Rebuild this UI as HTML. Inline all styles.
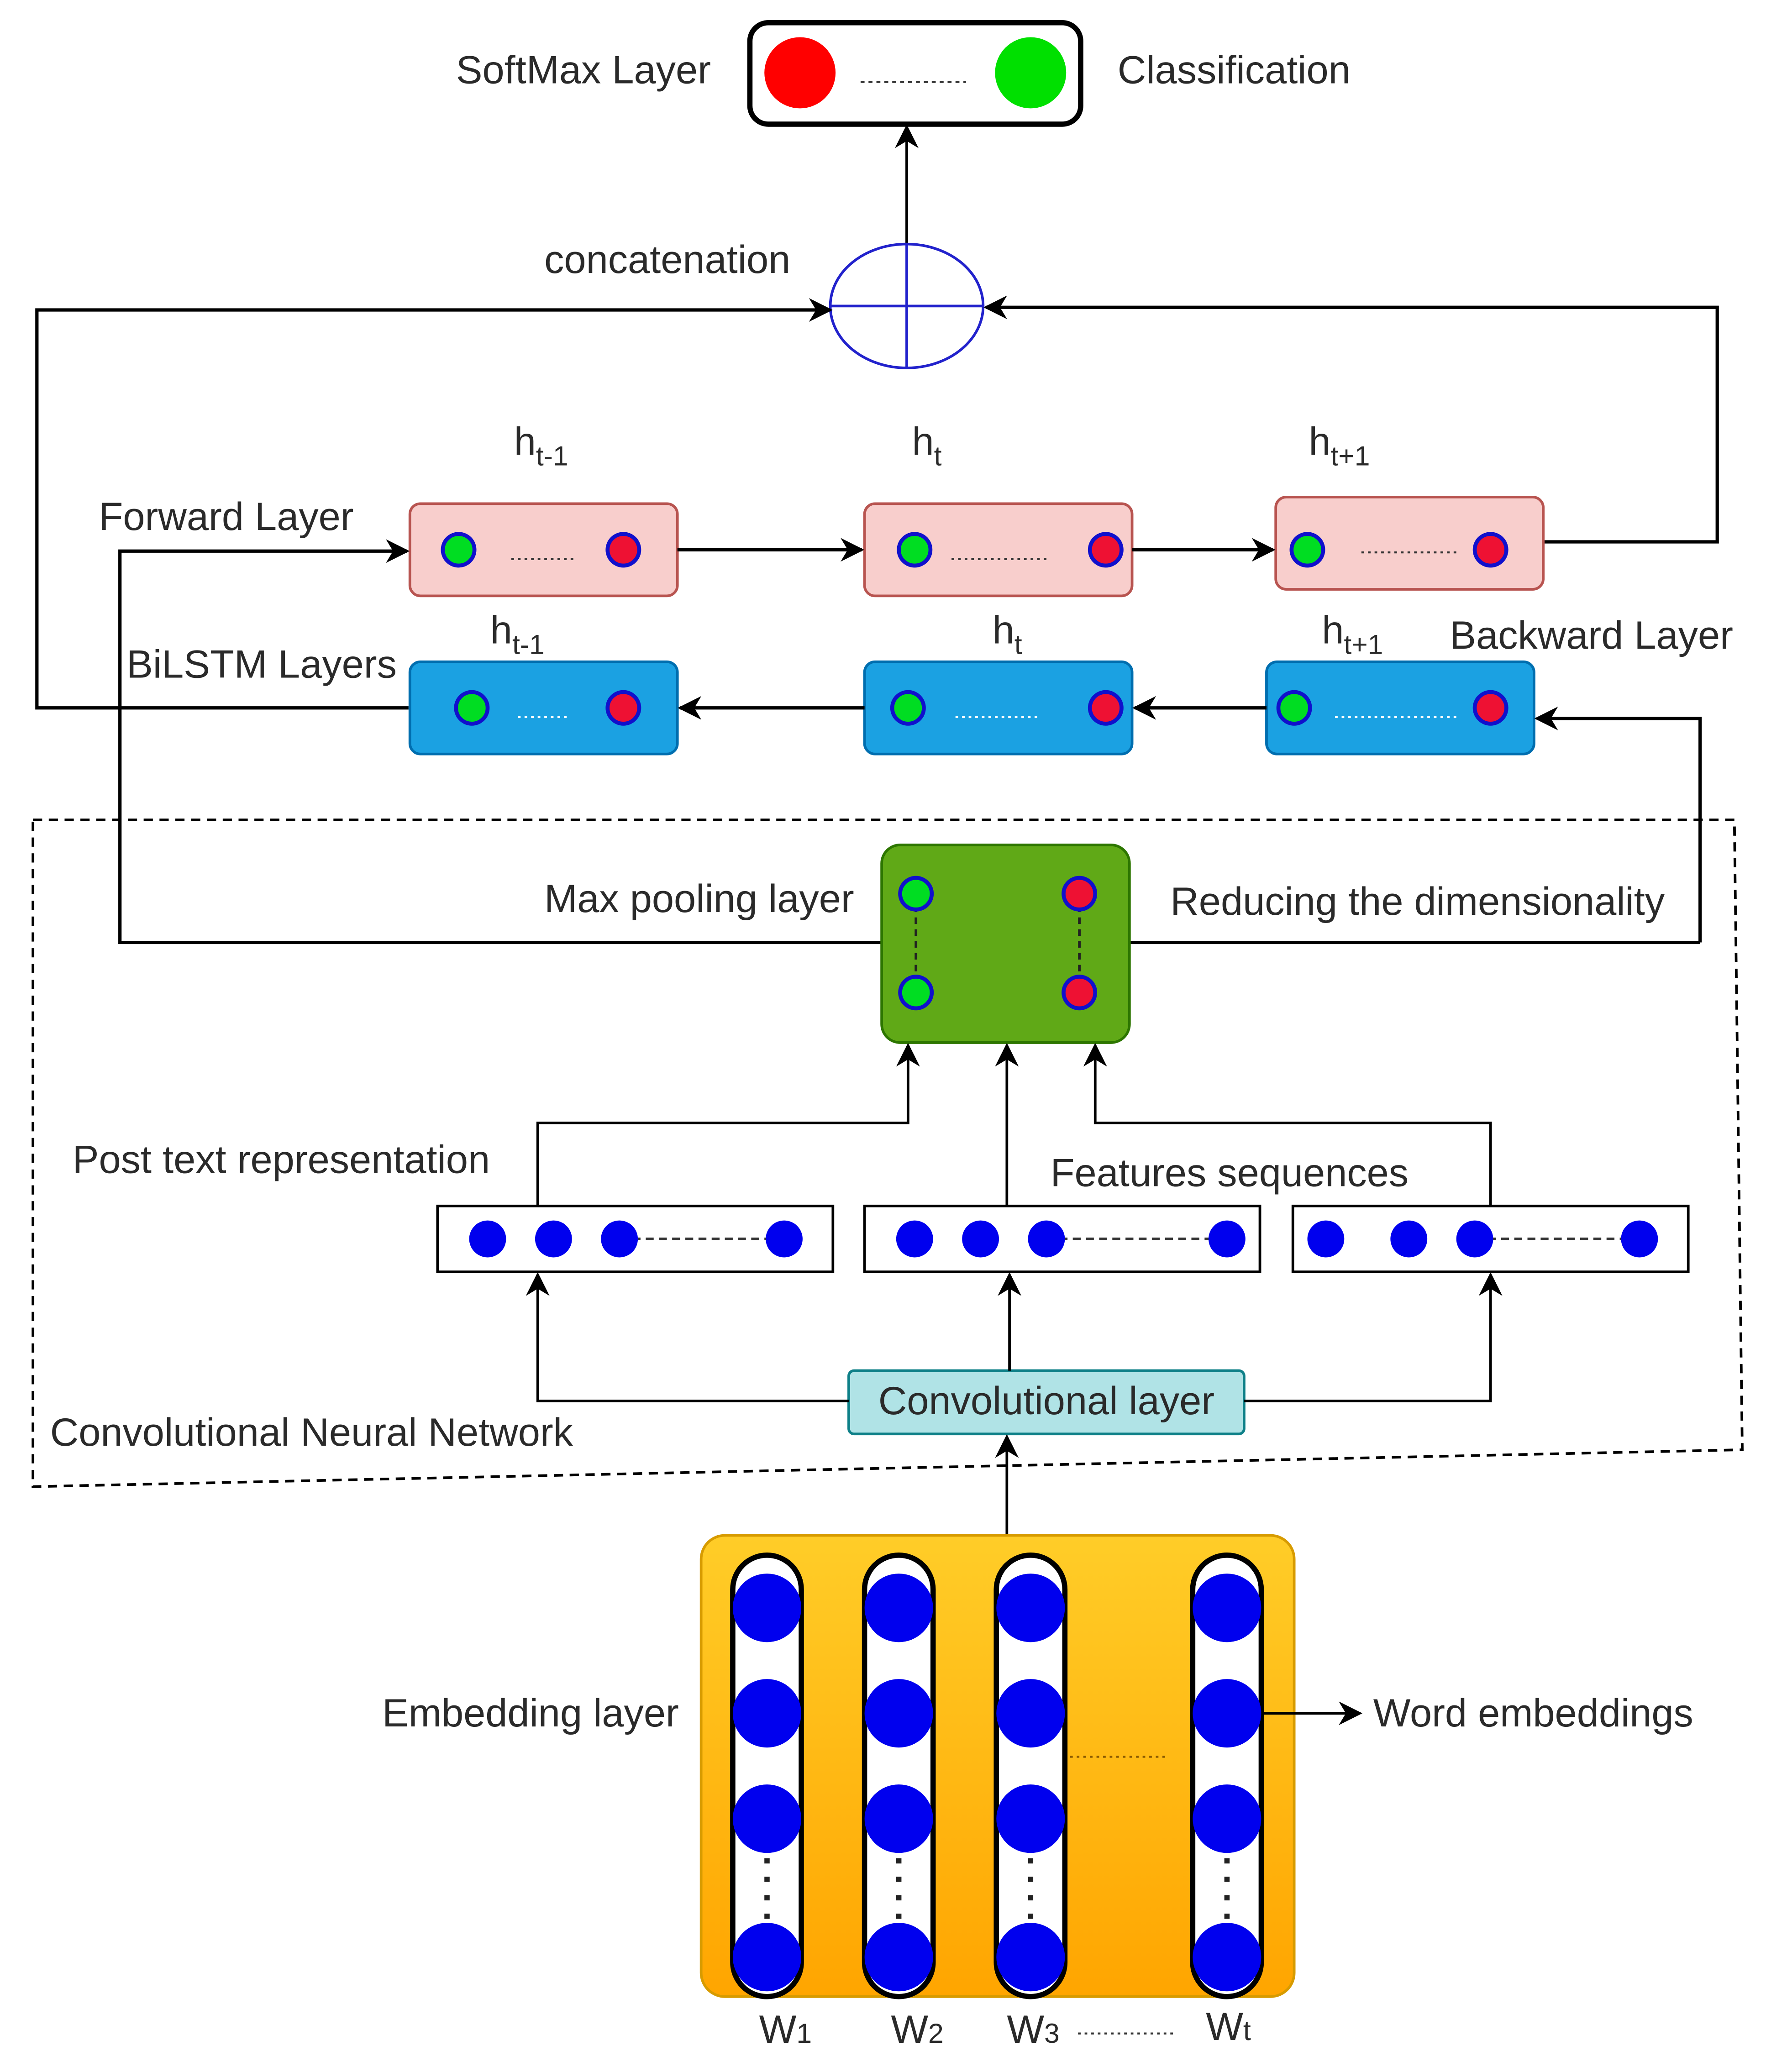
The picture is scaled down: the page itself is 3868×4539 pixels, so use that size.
<!DOCTYPE html>
<html><head><meta charset="utf-8"><style>
html,body{margin:0;padding:0;background:#fff}
svg{display:block}
text{font-family:"Liberation Sans",Arial,sans-serif;fill:#2a2a2a}
</style></head><body>
<svg width="3868" height="4539" viewBox="0 0 1340 1572" xmlns="http://www.w3.org/2000/svg">
<defs>
<marker id="b" viewBox="0 0 10 10" refX="9" refY="5" markerWidth="18" markerHeight="18" orient="auto" markerUnits="userSpaceOnUse">
<path d="M0,0 L10,5 L0,10 L3,5 z" fill="#000"/></marker>
<linearGradient id="og" x1="0" y1="0" x2="0" y2="1"><stop offset="0" stop-color="#ffcd28"/><stop offset="1" stop-color="#ffa500"/></linearGradient>
</defs>
<g font-size="30">
<rect x="569" y="17" width="251" height="77" rx="14" fill="#fff" stroke="#000" stroke-width="4"/>
<circle cx="607" cy="55" r="27" fill="#ff0000"/>
<circle cx="782" cy="55" r="27" fill="#00e000"/>
<line x1="653" y1="62" x2="733" y2="62" stroke="#333" stroke-width="1.5" stroke-dasharray="3,3"/>
<text x="346" y="63">SoftMax Layer</text>
<text x="848" y="63">Classification</text>
<line x1="688" y1="185" x2="688" y2="96" stroke="#000" stroke-width="2" marker-end="url(#b)"/>
<ellipse cx="688" cy="232" rx="58" ry="47" fill="#fff" stroke="#2222cc" stroke-width="2"/>
<line x1="630" y1="232" x2="746" y2="232" stroke="#2222cc" stroke-width="2"/>
<line x1="688" y1="185" x2="688" y2="279" stroke="#2222cc" stroke-width="2"/>
<text x="413" y="207">concatenation</text>
<polyline points="310,537 28,537 28,235 630,235" fill="none" stroke="#000" stroke-width="2.5" marker-end="url(#b)"/>
<polyline points="1170,411 1303,411 1303,233 748,233" fill="none" stroke="#000" stroke-width="2.5" marker-end="url(#b)"/>
<g fill="#f8cecc" stroke="#b85450" stroke-width="2">
<rect x="311" y="382" width="203" height="70" rx="8"/>
<rect x="656" y="382" width="203" height="70" rx="8"/>
<rect x="968" y="377" width="203" height="70" rx="8"/>
</g>
<g fill="#1ba1e2" stroke="#006eaf" stroke-width="2">
<rect x="311" y="502" width="203" height="70" rx="8"/>
<rect x="656" y="502" width="203" height="70" rx="8"/>
<rect x="961" y="502" width="203" height="70" rx="8"/>
</g>
<g stroke="#1010cc" stroke-width="3">
<circle cx="348" cy="417" r="12" fill="#00dd22"/><circle cx="473" cy="417" r="12" fill="#ee1133"/>
<circle cx="694" cy="417" r="12" fill="#00dd22"/><circle cx="839" cy="417" r="12" fill="#ee1133"/>
<circle cx="992" cy="417" r="12" fill="#00dd22"/><circle cx="1131" cy="417" r="12" fill="#ee1133"/>
<circle cx="358" cy="537" r="12" fill="#00dd22"/><circle cx="473" cy="537" r="12" fill="#ee1133"/>
<circle cx="689" cy="537" r="12" fill="#00dd22"/><circle cx="839" cy="537" r="12" fill="#ee1133"/>
<circle cx="982" cy="537" r="12" fill="#00dd22"/><circle cx="1131" cy="537" r="12" fill="#ee1133"/>
</g>
<g stroke-width="1.5" stroke-dasharray="2,3">
<line x1="388" y1="424" x2="438" y2="424" stroke="#333"/>
<line x1="722" y1="424" x2="795" y2="424" stroke="#333"/>
<line x1="1033" y1="419" x2="1105" y2="419" stroke="#333"/>
<line x1="393" y1="544" x2="433" y2="544" stroke="#fff"/>
<line x1="725" y1="544" x2="790" y2="544" stroke="#fff"/>
<line x1="1013" y1="544" x2="1108" y2="544" stroke="#fff"/>
</g>
<line x1="514" y1="417" x2="654" y2="417" stroke="#000" stroke-width="2.5" marker-end="url(#b)"/>
<line x1="859" y1="417" x2="966" y2="417" stroke="#000" stroke-width="2.5" marker-end="url(#b)"/>
<line x1="656" y1="537" x2="516" y2="537" stroke="#000" stroke-width="2.5" marker-end="url(#b)"/>
<line x1="961" y1="537" x2="861" y2="537" stroke="#000" stroke-width="2.5" marker-end="url(#b)"/>
<polyline points="1290,715 1290,545 1166,545" fill="none" stroke="#000" stroke-width="2.5" marker-end="url(#b)"/>
<polyline points="669,715 91,715 91,418 309,418" fill="none" stroke="#000" stroke-width="2.5" marker-end="url(#b)"/>
<line x1="857" y1="715" x2="1290" y2="715" stroke="#000" stroke-width="2.5"/>
<text x="390" y="345">h<tspan font-size="21" dy="8">t-1</tspan></text>
<text x="692" y="345">h<tspan font-size="21" dy="8">t</tspan></text>
<text x="993" y="345">h<tspan font-size="21" dy="8">t+1</tspan></text>
<text x="372" y="488">h<tspan font-size="21" dy="8">t-1</tspan></text>
<text x="753" y="488">h<tspan font-size="21" dy="8">t</tspan></text>
<text x="1003" y="488">h<tspan font-size="21" dy="8">t+1</tspan></text>
<text x="75" y="402">Forward Layer</text>
<text x="96" y="514">BiLSTM Layers</text>
<text x="1100" y="492">Backward Layer</text>
<polygon points="25,622 1316,622 1322,1100 25,1128" fill="none" stroke="#000" stroke-width="2" stroke-dasharray="7,5"/>
<rect x="669" y="641" width="188" height="150" rx="14" fill="#60a917" stroke="#2d7600" stroke-width="2"/>
<line x1="695" y1="678" x2="695" y2="753" stroke="#222" stroke-width="2" stroke-dasharray="5,4"/>
<line x1="819" y1="678" x2="819" y2="753" stroke="#222" stroke-width="2" stroke-dasharray="5,4"/>
<g stroke="#1010cc" stroke-width="3">
<circle cx="695" cy="678" r="12" fill="#00dd22"/><circle cx="695" cy="753" r="12" fill="#00dd22"/>
<circle cx="819" cy="678" r="12" fill="#ee1133"/><circle cx="819" cy="753" r="12" fill="#ee1133"/>
</g>
<text x="413" y="692">Max pooling layer</text>
<text x="888" y="694">Reducing the dimensionality</text>
<polyline points="408,915 408,852 689,852 689,793" fill="none" stroke="#000" stroke-width="2" marker-end="url(#b)"/>
<line x1="764" y1="915" x2="764" y2="793" stroke="#000" stroke-width="2" marker-end="url(#b)"/>
<polyline points="1131,915 1131,852 831,852 831,793" fill="none" stroke="#000" stroke-width="2" marker-end="url(#b)"/>
<g fill="#fff" stroke="#000" stroke-width="2">
<rect x="332" y="915" width="300" height="50"/>
<rect x="656" y="915" width="300" height="50"/>
<rect x="981" y="915" width="300" height="50"/>
</g>
<g stroke="#333" stroke-width="2" stroke-dasharray="6,4">
<line x1="470" y1="940" x2="595" y2="940"/><line x1="794" y1="940" x2="931" y2="940"/><line x1="1119" y1="940" x2="1244" y2="940"/>
</g>
<g fill="#0000ee">
<circle cx="370" cy="940" r="14"/><circle cx="420" cy="940" r="14"/><circle cx="470" cy="940" r="14"/><circle cx="595" cy="940" r="14"/>
<circle cx="694" cy="940" r="14"/><circle cx="744" cy="940" r="14"/><circle cx="794" cy="940" r="14"/><circle cx="931" cy="940" r="14"/>
<circle cx="1006" cy="940" r="14"/><circle cx="1069" cy="940" r="14"/><circle cx="1119" cy="940" r="14"/><circle cx="1244" cy="940" r="14"/>
</g>
<text x="55" y="890">Post text representation</text>
<text x="797" y="900">Features sequences</text>
<rect x="644" y="1040" width="300" height="48" rx="4" fill="#b0e3e6" stroke="#0e8088" stroke-width="2"/>
<text x="794" y="1073" text-anchor="middle">Convolutional layer</text>
<polyline points="644,1063 408,1063 408,967" fill="none" stroke="#000" stroke-width="2" marker-end="url(#b)"/>
<polyline points="944,1063 1131,1063 1131,967" fill="none" stroke="#000" stroke-width="2" marker-end="url(#b)"/>
<line x1="766" y1="1040" x2="766" y2="967" stroke="#000" stroke-width="2" marker-end="url(#b)"/>
<text x="38" y="1097">Convolutional Neural Network</text>
<line x1="764" y1="1165" x2="764" y2="1090" stroke="#000" stroke-width="2" marker-end="url(#b)"/>
<rect x="532" y="1165" width="450" height="350" rx="18" fill="url(#og)" stroke="#d79b00" stroke-width="2"/>
<g fill="#fff" stroke="#000" stroke-width="4">
<rect x="556" y="1180" width="52" height="335" rx="26"/>
<rect x="656" y="1180" width="52" height="335" rx="26"/>
<rect x="756" y="1180" width="52" height="335" rx="26"/>
<rect x="905" y="1180" width="52" height="335" rx="26"/>
</g>
<g stroke="#222" stroke-width="4" stroke-dasharray="4,10">
<line x1="582" y1="1410" x2="582" y2="1462"/><line x1="682" y1="1410" x2="682" y2="1462"/>
<line x1="782" y1="1410" x2="782" y2="1462"/><line x1="931" y1="1410" x2="931" y2="1462"/>
</g>
<g fill="#0000ee">
<circle cx="582" cy="1220" r="26"/><circle cx="582" cy="1300" r="26"/><circle cx="582" cy="1380" r="26"/><circle cx="582" cy="1485" r="26"/>
<circle cx="682" cy="1220" r="26"/><circle cx="682" cy="1300" r="26"/><circle cx="682" cy="1380" r="26"/><circle cx="682" cy="1485" r="26"/>
<circle cx="782" cy="1220" r="26"/><circle cx="782" cy="1300" r="26"/><circle cx="782" cy="1380" r="26"/><circle cx="782" cy="1485" r="26"/>
<circle cx="931" cy="1220" r="26"/><circle cx="931" cy="1300" r="26"/><circle cx="931" cy="1380" r="26"/><circle cx="931" cy="1485" r="26"/>
</g>
<line x1="812" y1="1333" x2="884" y2="1333" stroke="#8a5a00" stroke-width="1.5" stroke-dasharray="2,3"/>
<line x1="957" y1="1300" x2="1032" y2="1300" stroke="#000" stroke-width="2" marker-end="url(#b)"/>
<text x="290" y="1310">Embedding layer</text>
<text x="1042" y="1310">Word embeddings</text>
<text x="576" y="1550">W<tspan font-size="21">1</tspan></text>
<text x="676" y="1550">W<tspan font-size="21">2</tspan></text>
<text x="764" y="1550">W<tspan font-size="21">3</tspan></text>
<line x1="818" y1="1543" x2="890" y2="1543" stroke="#333" stroke-width="1.5" stroke-dasharray="2,3"/>
<text x="915" y="1548">W<tspan font-size="21">t</tspan></text>
</g>
</svg>
</body></html>
